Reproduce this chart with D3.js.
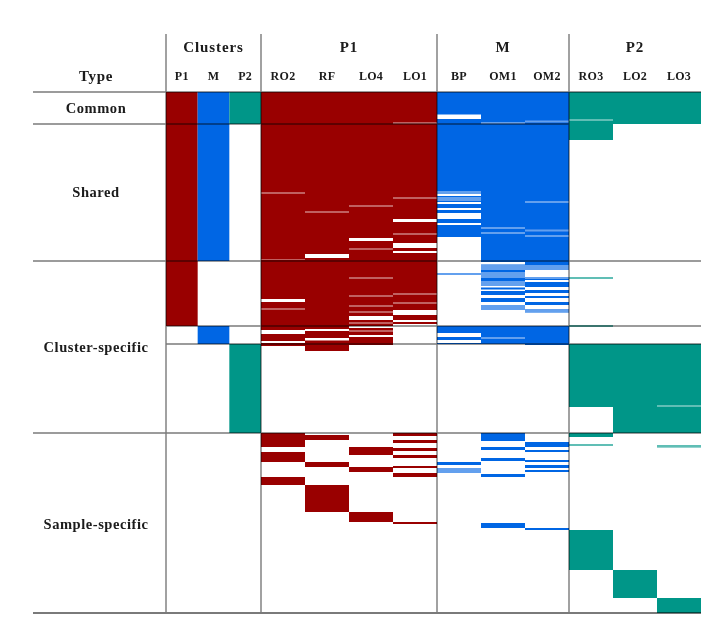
<!DOCTYPE html>
<html><head><meta charset="utf-8">
<script src="https://cdn.jsdelivr.net/npm/d3@7/dist/d3.min.js"></script>
<style>html,body{margin:0;padding:0;background:#fff}svg{display:block}text{font-family:"Liberation Serif",serif;font-weight:700;fill:#1a1a1a}</style>
</head><body><svg id="c" width="723" height="627"></svg>
<script>
const clusterNames = ["P1","M","P2"];
const sampleNames = ["RO2","RF","LO4","LO1","BP","OM1","OM2","RO3","LO2","LO3"];
const groupNames = ["Clusters","P1","M","P2"];
const typeNames = ["Common","Shared","Cluster-specific","Sample-specific"];
const totalRows = 521;
const typeEdges = [0,32,169,341,521];
const clusterEdges = [234,252];

// Row ranges [from,to] where the feature is present, and paler rows inside them
const clusterP1 = [[0,234]];
const clusterM = [[0,169],[234,252]];
const clusterP2 = [[0,32],[252,341]];

const RO2 = [[0,207],[210,238],[242,249],[251,254],[341,355],[360,370],[385,393]];
const RF  = [[0,162],[166,237],[239,246],[248.5,259],[343,348],[370,375],[393,420]];
const LO4 = [[0,146],[149,224],[228,234],[236,243],[245,253],[355,363],[375,380],[420,430]];
const LO1 = [[0,127],[130,151],[156,159],[161,218],[223,228],[230,232],[341,344],[348,351],[356,359],[363,366],[374,376],[381,385],[430,432]];
const BP  = [[0,22.5],[27,102],[104,110],[112,116],[118,121],[127,131],[133,145],[181,183],[234,241],[245,248],[251,252],[370,373],[376,381]];
const OM1 = [[0,170],[172.5,194],[195.5,197.5],[199,203],[206,210],[213,218],[234,252],[341,349],[355,358],[366,369],[382,385],[431,436]];
const OM2 = [[0,178],[185,188],[190,195],[198,201],[204,206],[210,213],[217,220.5],[234,253],[350,355],[358,360],[368,370],[373,376],[378,380],[436,438]];
const RO3 = [[0,48],[185,187],[233,235],[252,315],[341,345],[352,354],[438,478]];
const LO2 = [[0,32],[252,341],[478,506]];
const LO3 = [[0,32],[252,341],[353,355.5],[506,521]];

const RO2pale = [[100,102],[167,168],[216,218]];
const RFpale  = [[119,121]];
const LO4pale = [[113,115],[156,158],[185,187],[203,205],[213,215],[219,221],[230,232],[238,240]];
const LO1pale = [[30,32],[105,107],[141,143],[201,203],[210,212]];
const BPpale  = [[99,102],[105,109],[181,183],[376,381]];
const OM1pale = [[30,32],[135,137],[140,142],[173,178],[180,186],[189,194],[213,218],[245,247]];
const OM2pale = [[28.5,30.5],[109,111],[137.5,139.5],[143,145],[173,178],[185,187],[217,220]];
const RO3pale = [[27,29],[185,187],[233,235],[352,354]];
const LO2pale = [];
const LO3pale = [[313,315],[353,355.5]];

const red="#990000", blue="#0566e4", teal="#009688", rule="#7a7a7a";
const clusterColor = {P1:red,M:blue,P2:teal};
const sampleColor = {RO2:red,RF:red,LO4:red,LO1:red,BP:blue,OM1:blue,OM2:blue,RO3:teal,LO2:teal,LO3:teal};
const clusterSeries = {P1:clusterP1,M:clusterM,P2:clusterP2};
const sampleSeries = {RO2,RF,LO4,LO1,BP,OM1,OM2,RO3,LO2,LO3};
const paleSeries = {RO2:RO2pale,RF:RFpale,LO4:LO4pale,LO1:LO1pale,BP:BPpale,OM1:OM1pale,OM2:OM2pale,RO3:RO3pale,LO2:LO2pale,LO3:LO3pale};

const svg=d3.select("#c");
const y=d3.scaleLinear().domain([0,totalRows]).range([92,613]);
const xC=d3.scaleBand().domain(clusterNames).range([166,261]);
const xS=d3.scaleBand().domain(sampleNames).range([261,701]);
const defs=svg.append("defs");
defs.append("filter").attr("id","soft").append("feGaussianBlur").attr("stdDeviation",0.5);
defs.append("filter").attr("id","softText").append("feGaussianBlur").attr("stdDeviation",0.35);

const marks=svg.append("g").attr("filter","url(#soft)");
function column(x,names,series,colors,pale){
  names.forEach(n=>{
    marks.append("g").selectAll("rect").data(series[n]).join("rect")
      .attr("x",x(n)).attr("width",x.bandwidth())
      .attr("y",d=>y(d[0])).attr("height",d=>y(d[1])-y(d[0]))
      .attr("fill",colors[n]);
    if(pale) marks.append("g").selectAll("rect").data(pale[n]).join("rect")
      .attr("x",x(n)).attr("width",x.bandwidth())
      .attr("y",d=>y(d[0])).attr("height",d=>y(d[1])-y(d[0]))
      .attr("fill","#fff").attr("opacity",0.38);
  });
}
column(xC,clusterNames,clusterSeries,clusterColor,null);
column(xS,sampleNames,sampleSeries,sampleColor,paleSeries);

// rules
const rules=svg.append("g").attr("stroke",rule).attr("filter","url(#softText)").style("mix-blend-mode","multiply");
const hLine=(r,x0,x1,w=1.3,o=1)=>rules.append("line").attr("x1",x0).attr("x2",x1).attr("y1",y(r)).attr("y2",y(r)).attr("stroke-width",w).attr("opacity",o);
hLine(typeEdges[0],33,701);
hLine(typeEdges[1],33,569);
hLine(typeEdges[2],33,701);
clusterEdges.forEach(r=>hLine(r,166,701));
hLine(typeEdges[3],33,701);
hLine(typeEdges[4],33,701,2);
[xC.range()[0],xS(sampleNames[0]),xS(sampleNames[4]),xS(sampleNames[7])].forEach(v=>
  rules.append("line").attr("x1",v).attr("x2",v).attr("y1",34).attr("y2",y(totalRows)).attr("stroke-width",1.4));

// text
const txt=svg.append("g").attr("filter","url(#softText)");
const tickAxis=(x)=>d3.axisTop(x).tickSize(0).tickPadding(0);
[[xC],[xS]].forEach(([x])=>{
  const a=txt.append("g").attr("transform","translate(0,79.5)").call(tickAxis(x));
  a.select(".domain").remove();
  a.selectAll("text").attr("font-size",12).attr("letter-spacing",0.3).attr("font-family",null).attr("dy",0);
});
const groupCenters=[xC("M")+xC.bandwidth()/2,xS("LO4"),xS("OM1")+xS.bandwidth()/2,xS("LO2")+xS.bandwidth()/2];
txt.selectAll(".grp").data(groupNames).join("text").attr("text-anchor","middle").attr("font-size",15)
  .attr("letter-spacing",0.9).attr("x",(d,i)=>groupCenters[i]).attr("y",52).text(d=>d);
txt.append("text").attr("text-anchor","middle").attr("font-size",15).attr("letter-spacing",0.6).attr("x",96).attr("y",81).text("Type");
const typeRows=[16,100,255,432];
txt.selectAll(".typ").data(typeNames).join("text").attr("text-anchor","middle").attr("font-size",14.5)
  .attr("letter-spacing",0.55).attr("x",96).attr("y",(d,i)=>y(typeRows[i])+4.5).text(d=>d);
</script></body></html>
